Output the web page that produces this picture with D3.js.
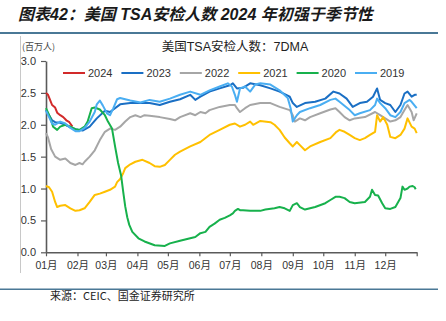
<!DOCTYPE html>
<html><head><meta charset="utf-8">
<script src="https://cdn.jsdelivr.net/npm/d3@7"></script>
<style>body{margin:0;background:#fff}svg{display:block}</style>
</head><body><svg id="c" width="446" height="321"></svg>
<script>
const titleText = "图表42：美国 TSA安检人数 2024 年初强于季节性";
const chartTitle = "美国TSA安检人数：7DMA";
const unitText = "(百万人)";
const sourceText = "来源：CEIC、国金证券研究所";
const seriesNames = ["2024", "2023", "2022", "2021", "2020", "2019"];
const seriesColors = ["#d22a2a", "#1a6fc4", "#a6a6a6", "#ffc000", "#17b14c", "#4aaef2"];
const monthLabels = ["01月","02月","03月","04月","05月","06月","07月","08月","09月","10月","11月","12月",""];
const yTicks = [0, 0.5, 1.0, 1.5, 2.0, 2.5, 3.0];

// day offsets from Jan 1 and values (millions)
const days2024 = [0,2,4,6,9,11,14,17,20,23,26];
const vals2024 = [2.50,2.47,2.39,2.31,2.27,2.19,2.15,2.12,2.07,2.04,1.97];

const days2023 = [0,3,6,9,14,19,24,29,33,36,43,50,58,63,73,83,93,102,112,122,132,142,147,152,161,171,181,184,188,194,201,211,221,230,240,243,247,255,265,275,283,289,296,302,309,316,322,326,329,334,339,344,349,353,356,360,363,365];
const vals2023 = [2.23,2.15,2.07,2.04,2.03,2.00,1.96,1.93,1.92,1.91,1.97,2.10,2.22,2.20,2.32,2.34,2.34,2.34,2.31,2.36,2.40,2.47,2.39,2.44,2.52,2.57,2.62,2.65,2.57,2.58,2.65,2.62,2.57,2.52,2.44,2.34,2.28,2.34,2.36,2.41,2.52,2.49,2.41,2.28,2.34,2.36,2.44,2.57,2.39,2.34,2.31,2.20,2.31,2.49,2.52,2.44,2.47,2.47];

const days2022 = [0,2,5,9,14,19,24,29,33,36,38,43,48,53,58,63,68,73,78,83,88,93,97,102,112,122,127,132,142,147,152,157,161,171,181,186,188,191,196,201,211,221,230,240,243,245,250,255,260,270,280,285,289,294,299,304,314,324,329,334,339,344,349,353,356,360,362,365];
const vals2022 = [1.87,1.80,1.62,1.50,1.45,1.47,1.40,1.37,1.40,1.38,1.42,1.50,1.60,1.76,1.89,1.94,1.92,1.97,2.05,2.12,2.15,2.12,2.15,2.14,2.12,2.09,2.07,2.12,2.18,2.15,2.20,2.18,2.23,2.28,2.31,2.31,2.26,2.20,2.26,2.31,2.34,2.34,2.28,2.23,2.15,2.05,2.10,2.07,2.12,2.18,2.24,2.26,2.20,2.12,2.07,2.10,2.12,2.20,2.15,2.10,2.05,2.07,2.12,2.23,2.31,2.20,2.07,2.18];

const days2021 = [0,3,6,9,11,14,19,24,29,33,38,43,48,53,58,63,68,70,73,76,78,83,88,95,102,107,112,117,122,127,132,142,152,161,171,181,186,191,196,201,204,211,221,225,230,235,240,243,247,250,255,260,270,280,286,289,294,299,304,309,314,319,324,326,329,332,336,339,344,349,353,356,360,363,365];
const vals2021 = [1.04,1.02,0.95,0.79,0.71,0.73,0.74,0.69,0.65,0.66,0.69,0.79,0.90,0.92,0.95,0.98,1.03,1.10,1.15,1.24,1.32,1.38,1.42,1.45,1.40,1.35,1.34,1.37,1.45,1.53,1.58,1.66,1.73,1.84,1.92,2.00,2.02,1.97,2.00,2.05,2.00,2.06,2.04,2.00,1.92,1.80,1.71,1.66,1.73,1.68,1.60,1.66,1.73,1.79,1.89,1.92,1.89,1.84,1.79,1.76,1.79,1.84,1.89,2.15,2.05,2.12,2.00,1.81,1.79,1.84,1.94,2.10,1.97,1.94,1.87];

const days2020 = [0,4,7,11,14,19,24,29,33,38,41,45,48,53,58,61,65,68,71,74,76,78,80,82,85,91,97,107,117,122,132,142,147,152,157,161,166,171,176,181,184,186,189,191,194,201,211,216,225,230,235,240,243,247,250,255,265,275,280,285,289,294,299,304,314,319,321,324,327,331,334,339,344,349,351,353,356,358,361,363,364];
const vals2020 = [2.26,2.12,1.97,1.92,1.97,2.00,1.97,1.93,1.92,1.97,2.05,2.26,2.27,2.24,2.15,2.05,1.94,1.66,1.40,1.20,0.95,0.72,0.55,0.43,0.32,0.22,0.17,0.11,0.10,0.14,0.18,0.22,0.24,0.30,0.32,0.40,0.45,0.51,0.54,0.58,0.61,0.65,0.68,0.66,0.66,0.65,0.65,0.67,0.69,0.71,0.69,0.65,0.74,0.77,0.71,0.67,0.71,0.77,0.82,0.87,0.87,0.85,0.79,0.77,0.79,0.87,0.98,0.90,0.89,0.77,0.69,0.68,0.71,0.85,1.03,0.98,1.00,1.03,1.04,1.02,0.99];

const days2019 = [0,3,6,9,14,19,24,29,33,38,43,48,50,53,56,60,63,66,70,73,78,83,93,102,112,122,132,142,152,161,171,179,183,186,188,191,196,201,206,211,221,230,238,241,243,247,250,260,270,280,285,289,299,304,309,319,324,326,329,334,339,344,349,353,358,360,365];
const vals2019 = [2.22,2.12,2.02,2.00,2.05,2.02,1.95,1.90,1.90,1.95,2.05,2.20,2.32,2.38,2.30,2.18,2.15,2.25,2.40,2.42,2.40,2.38,2.35,2.39,2.36,2.41,2.47,2.52,2.47,2.54,2.60,2.65,2.60,2.47,2.36,2.57,2.60,2.52,2.63,2.65,2.63,2.54,2.42,2.25,2.05,2.15,2.20,2.26,2.31,2.39,2.41,2.36,2.23,2.15,2.18,2.23,2.31,2.41,2.34,2.26,2.15,2.12,2.20,2.34,2.39,2.36,2.26];

const seriesDays = [days2024, days2023, days2022, days2021, days2020, days2019];
const seriesVals = [vals2024, vals2023, vals2022, vals2021, vals2020, vals2019];

const svg = d3.select("#c");
const base = new Date(2021, 0, 1);
const toDate = d => new Date(2021, 0, 1 + d);
const x = d3.scaleTime().domain([base, new Date(2022, 0, 1)]).range([46, 416.7]);
const y = d3.scaleLinear().domain([0, 3]).range([252.3, 61]);

// title
svg.append("text").attr("x", 18).attr("y", 20)
  .attr("font-family", "'Liberation Sans','Noto Sans CJK SC',sans-serif")
  .attr("font-size", 16).attr("font-weight", "bold").attr("font-style", "italic")
  .attr("fill", "#1a1a1a").text(titleText);
svg.append("rect").attr("x", 0).attr("y", 32).attr("width", 438).attr("height", 2).attr("fill", "#4a7896");
svg.append("rect").attr("x", 0).attr("y", 288.5).attr("width", 438).attr("height", 1.5).attr("fill", "#4a7896");
svg.append("line").attr("x1", 20.5).attr("x2", 20.5).attr("y1", 36).attr("y2", 273).attr("stroke", "#c8c8c8").attr("stroke-width", 1);

svg.append("text").attr("x", 22).attr("y", 50)
  .attr("font-family", "'Noto Sans CJK SC',sans-serif").attr("font-size", 9).attr("fill", "#444").text(unitText);
svg.append("text").attr("x", 235).attr("y", 51).attr("text-anchor", "middle")
  .attr("font-family", "'Liberation Sans','Noto Sans CJK SC',sans-serif").attr("font-size", 12.5).attr("fill", "#222").text(chartTitle);

// axes
const yAxis = svg.append("g").attr("transform", "translate(46,0)")
  .call(d3.axisLeft(y).tickValues(yTicks).tickFormat(d3.format(".1f")).tickSize(5).tickSizeOuter(0).tickPadding(5));
const monthTicks = d3.range(13).map(m => new Date(2021, m, 1));
const xAxis = svg.append("g").attr("transform", "translate(0,252.3)")
  .call(d3.axisBottom(x).tickValues(monthTicks).tickFormat((d, i) => monthLabels[i]).tickSize(4).tickSizeOuter(0).tickPadding(5));
[yAxis, xAxis].forEach(g => {
  g.select(".domain").attr("stroke", "#5a5a5a").attr("stroke-width", 1.6);
  g.selectAll(".tick line").attr("stroke", "#5a5a5a").attr("stroke-width", 1.2);
  g.selectAll(".tick text").attr("fill", "#333").attr("font-size", 11)
    .attr("font-family", "'Liberation Sans','Noto Sans CJK SC',sans-serif");
});
xAxis.selectAll(".tick text").attr("font-size", 10.5);

// lines
const line = d3.line().x(d => x(toDate(d[0]))).y(d => y(d[1]));
seriesNames.forEach((name, i) => {
  const pts = seriesDays[i].map((d, j) => [d, seriesVals[i][j]]);
  svg.append("path").datum(pts).attr("d", line).attr("fill", "none")
    .attr("stroke", seriesColors[i]).attr("stroke-width", 2).attr("stroke-linejoin", "round");
});

// legend
const legend = svg.append("g").attr("transform", "translate(63,73)");
seriesNames.forEach((name, i) => {
  const g = legend.append("g").attr("transform", `translate(${i * 58.4},0)`);
  g.append("line").attr("x1", 0).attr("x2", 22).attr("y1", 0).attr("y2", 0)
    .attr("stroke", seriesColors[i]).attr("stroke-width", 2);
  g.append("text").attr("x", 25).attr("y", 4).attr("font-size", 11)
    .attr("font-family", "'Liberation Sans',sans-serif").attr("fill", "#333").text(name);
});

svg.append("text").attr("x", 50).attr("y", 300)
  .attr("font-family", "'Noto Sans CJK SC',sans-serif").attr("font-size", 11).attr("fill", "#222").text(sourceText);
</script></body></html>
